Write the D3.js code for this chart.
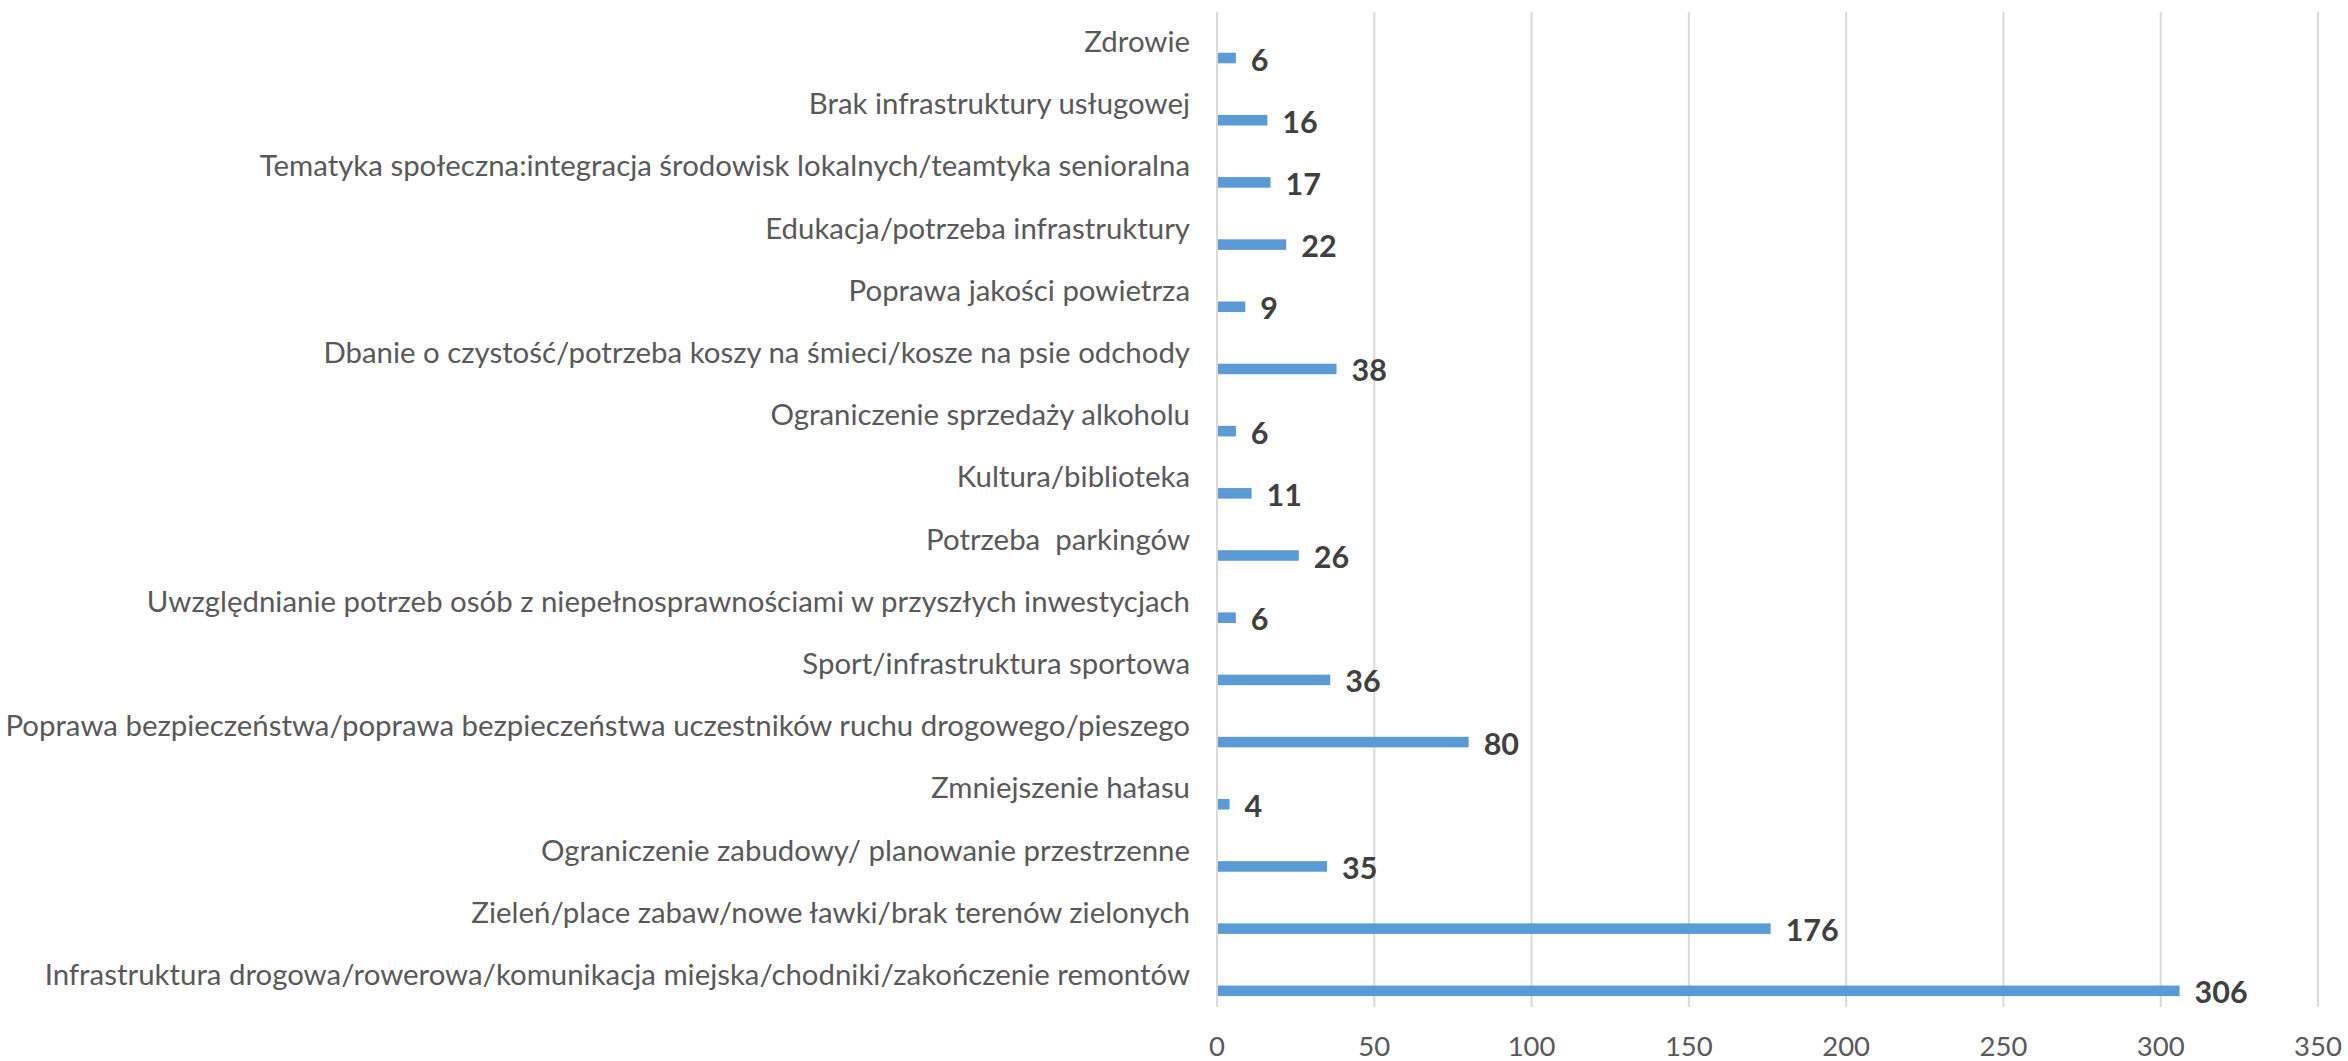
<!DOCTYPE html>
<html>
<head>
<meta charset="utf-8">
<script src="https://cdn.jsdelivr.net/npm/d3@7"></script>
<style>
    body { margin: 0; background: #fff; }
    svg text { font-family: Lato, 'Open Sans', sans-serif; }
</style>
</head>
<body>
<svg id="chart" width="2348" height="1061"></svg>
<script>
// categories, top to bottom as in the chart
var categories = [
    'Zdrowie',
    'Brak infrastruktury usługowej',
    'Tematyka społeczna:integracja środowisk lokalnych/teamtyka senioralna',
    'Edukacja/potrzeba infrastruktury',
    'Poprawa jakości powietrza',
    'Dbanie o czystość/potrzeba koszy na śmieci/kosze na psie odchody',
    'Ograniczenie sprzedaży alkoholu',
    'Kultura/biblioteka',
    'Potrzeba  parkingów',
    'Uwzględnianie potrzeb osób z niepełnosprawnościami w przyszłych inwestycjach',
    'Sport/infrastruktura sportowa',
    'Poprawa bezpieczeństwa/poprawa bezpieczeństwa uczestników ruchu drogowego/pieszego',
    'Zmniejszenie hałasu',
    'Ograniczenie zabudowy/ planowanie przestrzenne',
    'Zieleń/place zabaw/nowe ławki/brak terenów zielonych',
    'Infrastruktura drogowa/rowerowa/komunikacja miejska/chodniki/zakończenie remontów'
];

var values = [6, 16, 17, 22, 9, 38, 6, 11, 26, 6, 36, 80, 4, 35, 176, 306];

var xTicks = [0, 50, 100, 150, 200, 250, 300, 350];

var data = categories.map(function (c, i) {
    return { name: c, value: values[i] };
});

var margin = { top: 12, right: 30, bottom: 54, left: 1217 },
    width = 2348,
    height = 1061,
    plotW = 2318 - margin.left,
    plotH = height - margin.top - margin.bottom;

var svg = d3.select('#chart');

var x = d3.scaleLinear()
    .domain([0, 350])
    .range([margin.left, margin.left + plotW]);

var y = d3.scaleBand()
    .domain(categories)
    .range([margin.top, margin.top + plotH])
    .padding(0);

var bw = y.bandwidth();

// vertical gridlines
svg.append('g')
    .attr('class', 'grid')
    .selectAll('line')
    .data(xTicks)
    .enter().append('line')
    .attr('x1', function (d) { return x(d); })
    .attr('x2', function (d) { return x(d); })
    .attr('y1', margin.top)
    .attr('y2', margin.top + plotH)
    .style('stroke', '#d9d9d9')
    .style('stroke-width', 2);

// x tick labels
svg.append('g')
    .attr('class', 'x-ticks')
    .selectAll('text')
    .data(xTicks)
    .enter().append('text')
    .attr('x', function (d) { return x(d); })
    .attr('y', margin.top + plotH + 49)
    .attr('text-anchor', 'middle')
    .style('font-size', '27.5px')
    .style('fill', '#595959')
    .text(function (d) { return d; });

// category labels
svg.append('g')
    .attr('class', 'y-labels')
    .selectAll('text')
    .data(data)
    .enter().append('text')
    .attr('x', margin.left - 27)
    .attr('y', function (d) { return y(d.name) + bw / 2 + 9; })
    .attr('text-anchor', 'end')
    .style('font-size', '29.4px')
    .style('fill', '#595959')
    .style('white-space', 'pre')
    .text(function (d) { return d.name; });

// bars sit in the lower part of each band (second, empty series above)
var barTop = bw * 0.655,
    barH = bw * 0.17;

svg.append('g')
    .attr('class', 'bars')
    .selectAll('rect')
    .data(data)
    .enter().append('rect')
    .attr('x', x(0) + 1)
    .attr('y', function (d) { return y(d.name) + barTop; })
    .attr('width', function (d) { return x(d.value) - x(0) - 1; })
    .attr('height', barH)
    .style('fill', '#5b9bd5');

// value labels
svg.append('g')
    .attr('class', 'values')
    .selectAll('text')
    .data(data)
    .enter().append('text')
    .attr('x', function (d) { return x(d.value) + 15; })
    .attr('y', function (d) { return y(d.name) + barTop + barH / 2 + 12.5; })
    .style('font-size', '30.5px')
    .style('font-weight', 'bold')
    .style('fill', '#404040')
    .text(function (d) { return d.value; });
</script>
</body>
</html>
